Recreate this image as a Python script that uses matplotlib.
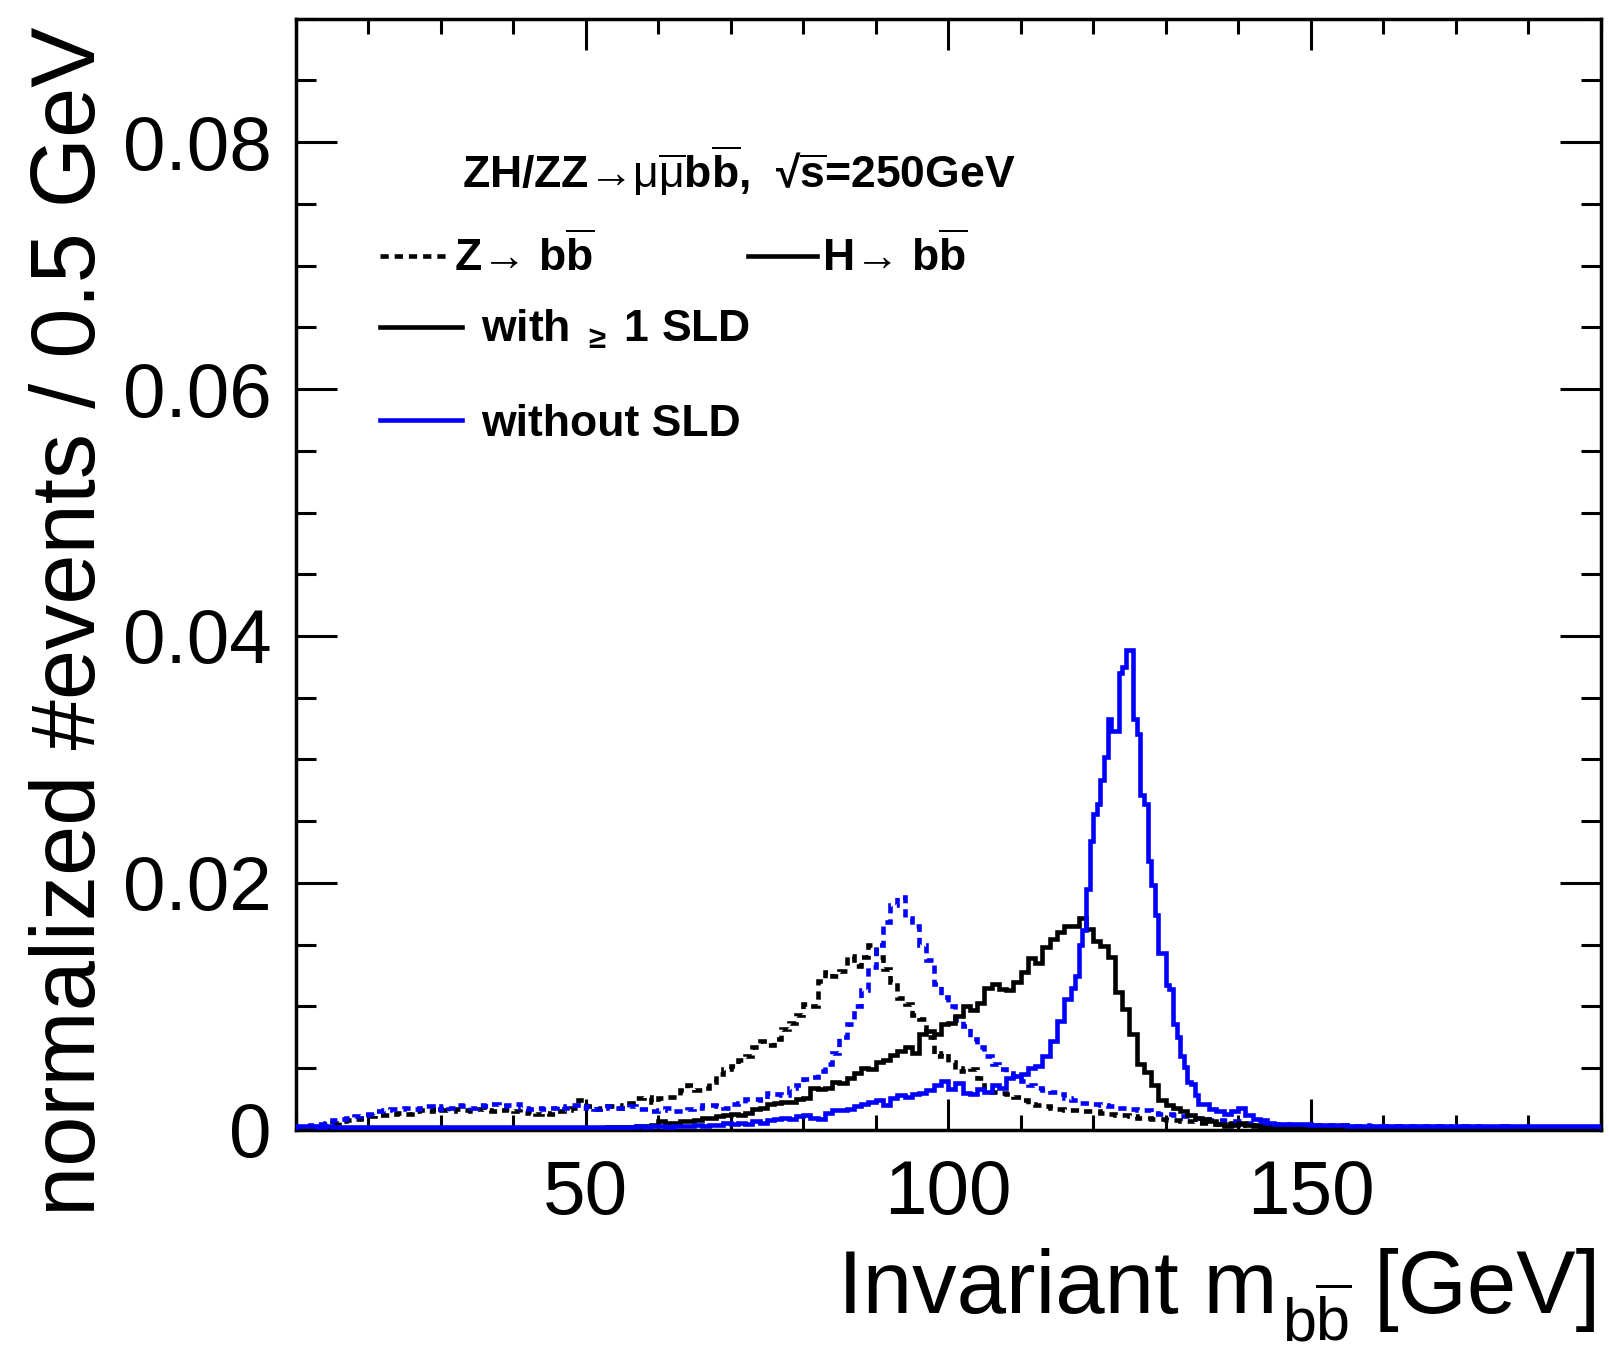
import numpy as np
import matplotlib
matplotlib.use('Agg')
import matplotlib.pyplot as plt
from matplotlib.ticker import FixedLocator, FixedFormatter, MultipleLocator
from matplotlib.lines import Line2D

plt.rcParams['font.family'] = ['Liberation Sans', 'DejaVu Sans']
plt.rcParams['mathtext.fontset'] = 'custom'
plt.rcParams['mathtext.rm'] = 'Liberation Sans'
plt.rcParams['mathtext.it'] = 'Liberation Sans:italic'
plt.rcParams['mathtext.bf'] = 'Liberation Sans:bold'
plt.rcParams['mathtext.default'] = 'regular'

# ---------------- data (values in units of 1e-4 per bin) ----------------
SCALE = 1e-4
edges_1gev = np.arange(10, 191, 1.0)
edges_h_nosld = np.concatenate([np.arange(10, 117, 1.0),
                                np.arange(117, 135, 0.5),
                                np.arange(135, 191, 1.0)])

# Z -> bb, with >=1 SLD (black dashed), 1 GeV bins 10..190
z_sld = [1, 2, 2, 3, 5, 6, 7, 8, 9, 10, 11, 12, 12, 13, 14, 13, 15, 16, 15, 17,
         16, 15, 17, 16, 15, 17, 16, 15, 16, 17, 15, 14, 15, 13, 14, 13, 15, 16, 18, 24,
         19, 17, 18, 19, 18,
         20, 22, 26, 27, 23, 26, 27, 27, 32, 36, 32, 34, 39, 45, 49, 52, 57, 60, 67, 72,
         69, 74, 82, 87, 93, 102,
         100, 121, 128, 125, 129, 141, 133, 140, 150, 140, 130, 120, 107, 102, 93, 90, 75, 60, 62,
         55, 48, 50, 49, 42, 33, 31, 30, 29, 27, 24, 21, 20, 19, 18, 17, 16, 16, 15, 15,
         15, 14, 13, 12, 12, 11, 10, 10, 9, 9, 8, 8, 7, 7, 6,
         6, 5, 5, 5, 6, 5, 4, 4, 4, 3, 3, 3, 3, 3, 3, 2, 3, 2, 2, 3,
         2, 2, 2, 2, 2, 2, 2, 2, 2, 2, 2, 2, 1, 2, 2, 2, 1, 2, 2, 1,
         1, 2, 1, 1, 1, 2, 1, 1, 1, 1, 1, 1, 1, 1, 1]

# Z -> bb, without SLD (blue dashed)
z_nosld = [2, 3, 4, 5, 6, 8, 9, 10, 11, 12, 13, 15, 16, 17, 17, 18, 17, 18, 19, 17,
           19, 18, 20, 19, 18, 20, 19, 21, 19, 20, 21, 18, 17, 18, 17, 18, 19, 18, 20, 18,
           19, 17, 18, 19, 18,
           18, 19, 17, 17, 15, 16, 18, 15, 15, 17, 18, 20, 20, 19, 18, 21, 22, 25, 25, 24,
           30, 29, 28, 34, 36, 41,
           43, 48, 53, 62, 75, 86, 100, 113, 132, 150, 168, 182, 189, 172, 165, 150, 138, 118, 108,
           100, 89, 84, 74, 67, 60, 53, 49, 46, 44, 40, 36, 34, 32, 31, 29, 26, 24, 22, 22,
           21, 20, 19, 18, 18, 17, 16, 16, 14, 13, 13, 12, 11, 11, 10,
           9, 8, 8, 7, 7, 7, 6, 6, 5, 5, 5, 5, 4, 4, 4, 4, 4, 4, 3, 4,
           3, 3, 4, 3, 3, 3, 3, 3, 3, 3, 3, 2, 3, 3, 2, 3, 3, 2, 3, 2,
           2, 3, 2, 2, 2, 2, 2, 2, 2, 2, 2, 2, 2, 2, 2]

# H -> bb, with >=1 SLD (black solid)
h_sld = [0, 1, 1, 1, 1, 1, 1, 1, 1, 1, 1, 1, 1, 1, 1, 1, 1, 1, 1, 1,
         1, 1, 1, 1, 1, 1, 1, 1, 1, 1, 1, 1, 1, 1, 1, 1, 1, 1, 1, 1,
         1, 1, 1, 2, 2,
         2, 2, 3, 3, 4, 7, 6, 6, 7, 7, 8, 10, 10, 11, 12, 13, 12, 14, 17, 18,
         21, 22, 23, 23, 25, 26,
         34, 33, 34, 39, 38, 42, 46, 50, 49, 55, 57, 61, 64, 67, 62, 78, 80, 78, 86,
         87, 92, 100, 97, 103, 115, 118, 114, 113, 120, 128, 139, 135, 148, 155, 160, 165, 165, 172, 163,
         153, 149, 140, 112, 98, 78, 53, 47, 36, 24, 20, 18, 15, 12, 10,
         9, 7, 5, 3, 4, 6, 4, 3, 2, 2, 2, 2, 2, 2, 1, 2, 2, 1, 1, 2,
         1, 1, 1, 1, 1, 1, 1, 1, 1, 1, 1, 1, 1, 1, 1, 1, 1, 1, 1, 1,
         1, 1, 1, 1, 1, 1, 1, 1, 1, 1, 1, 1, 1, 1, 1]

# H -> bb, without SLD (blue solid); 0.5 GeV bins between 117 and 135
h_nosld = [3, 3, 3, 2, 3, 2, 2, 2, 2, 2, 2, 2, 2, 2, 2, 2, 2, 2, 2, 2,
           2, 2, 2, 2, 2, 2, 2, 2, 2, 2, 2, 2, 2, 2, 2, 2, 2, 2, 2, 2,
           2, 2, 2, 2, 2,
           2, 2, 3, 2, 3, 3, 2, 3, 3, 3, 4, 3, 4, 4, 6, 5, 6, 5, 7, 6,
           8, 9, 10, 9, 11,
           12, 10, 9, 14, 16, 16, 17, 19, 21, 23, 24, 20, 26, 28, 27, 29, 30, 32, 36, 40,
           33, 38, 30, 29, 33, 31, 36, 34, 42, 44, 45, 50, 52, 60, 72, 88, 106,
           115, 125, 150, 162, 195, 234, 256, 264, 283, 302, 333, 323, 323, 370, 375, 389, 389, 333,
           321, 271, 264, 218, 198, 174, 143, 143, 117, 114, 86, 75, 60, 51, 39, 37, 28, 21,
           21, 17, 15, 13, 15, 18, 12, 9, 8, 6, 5, 5, 5, 5, 5, 4, 4, 4, 4, 4,
           3, 3, 3, 3, 3, 3, 3, 3, 3, 3, 3, 3, 3, 3, 3, 3, 3, 3, 3, 3,
           3, 3, 3, 3, 3, 3, 3, 3, 3, 3, 3, 3, 3, 3, 3]

x_major = [50, 100, 150]
y_ticks = [0, 0.02, 0.04, 0.06, 0.08]
y_labels = ['0', '0.02', '0.04', '0.06', '0.08']

label_z = r'Z→ b$\overline{b}$'
label_h = r'H→ b$\overline{b}$'
label_sld = r'with $_{\geq}$ 1 SLD'
label_nosld = 'without SLD'
title_txt = r'ZH/ZZ→$\mathrm{\mu\overline{\mu}}$b$\overline{b}$,  √$\overline{s}$=250GeV'
xlabel_main = 'Invariant m'
xlabel_sub = r'b$\overline{b}$'
xlabel_unit = '[GeV]'
ylabel_txt = 'normalized #events / 0.5 GeV'

# ---------------- figure ----------------
BLUE = '#0000ff'
LW = 3.3
DASH = (0, (1.8, 1.3))

fig = plt.figure(figsize=(16.09, 13.55), dpi=100)
ax = fig.add_axes([0.1837, 0.1661, 0.8112, 0.8202])

ax.stairs(np.array(z_sld) * SCALE, edges_1gev, color='black', lw=LW, ls=DASH, baseline=0, zorder=2)
ax.stairs(np.array(z_nosld) * SCALE, edges_1gev, color=BLUE, lw=LW, ls=DASH, baseline=0, zorder=3)
ax.stairs(np.array(h_sld) * SCALE, edges_1gev, color='black', lw=LW, baseline=0, zorder=4)
ax.stairs(np.array(h_nosld) * SCALE, edges_h_nosld, color=BLUE, lw=LW, baseline=0, zorder=5)

ax.set_xlim(10, 190)
ax.set_ylim(0, 0.09)

ax.xaxis.set_major_locator(FixedLocator(x_major))
ax.xaxis.set_minor_locator(MultipleLocator(10))
ax.yaxis.set_major_locator(FixedLocator(y_ticks))
ax.yaxis.set_major_formatter(FixedFormatter(y_labels))
ax.yaxis.set_minor_locator(MultipleLocator(0.005))

ax.tick_params(axis='both', which='both', direction='in', top=True, right=True,
               width=2.2, labelsize=55, color='black')
ax.tick_params(axis='x', which='major', length=22, pad=21)
ax.tick_params(axis='x', which='minor', length=11)
ax.tick_params(axis='y', which='major', length=29.5, pad=17)
ax.tick_params(axis='y', which='minor', length=14.5)
for sp in ax.spines.values():
    sp.set_linewidth(2.5)

fig.text(0.0447, 0.5417, ylabel_txt, rotation=90, ha='center', va='center', fontsize=65)

# x-axis title built from three pieces so the subscript can sit low, as in ROOT
renderer = fig.canvas.get_renderer()
W = fig.bbox.width
t_unit = fig.text(0.995, 0.031, xlabel_unit, ha='right', va='baseline', fontsize=64)
x_left = t_unit.get_window_extent(renderer).x0 / W
t_sub = fig.text(x_left - 22.0 / W, 0.010, xlabel_sub, ha='right', va='baseline', fontsize=44)
x_left = t_sub.get_window_extent(renderer).x0 / W
fig.text(x_left - 4.0 / W, 0.031, xlabel_main, ha='right', va='baseline', fontsize=64)

ax.text(0.1274, 0.8478, title_txt, transform=ax.transAxes, ha='left', va='baseline',
        fontsize=32, fontweight='bold')

LEG_FS = 32
h_zd = Line2D([], [], color='black', lw=LW, ls=DASH)
h_k = Line2D([], [], color='black', lw=LW)
h_b = Line2D([], [], color=BLUE, lw=LW)

leg1 = ax.legend([h_zd, h_k], [label_z, label_h], ncol=2, loc='center left',
                 bbox_to_anchor=(0.0645, 0.7855), frameon=False, borderpad=0, borderaxespad=0,
                 handlelength=1.55, handletextpad=0.12, columnspacing=3.45,
                 prop={'weight': 'bold', 'size': LEG_FS})
ax.add_artist(leg1)
leg2 = ax.legend([h_k], [label_sld], loc='center left', bbox_to_anchor=(0.0645, 0.7200),
                 frameon=False, borderpad=0, borderaxespad=0, handlelength=1.85,
                 handletextpad=0.42, prop={'weight': 'bold', 'size': LEG_FS})
ax.add_artist(leg2)
leg3 = ax.legend([h_b], [label_nosld], loc='center left', bbox_to_anchor=(0.0645, 0.6350),
                 frameon=False, borderpad=0, borderaxespad=0, handlelength=1.85,
                 handletextpad=0.42, prop={'weight': 'bold', 'size': LEG_FS})

fig.savefig('out.png', dpi=100)
